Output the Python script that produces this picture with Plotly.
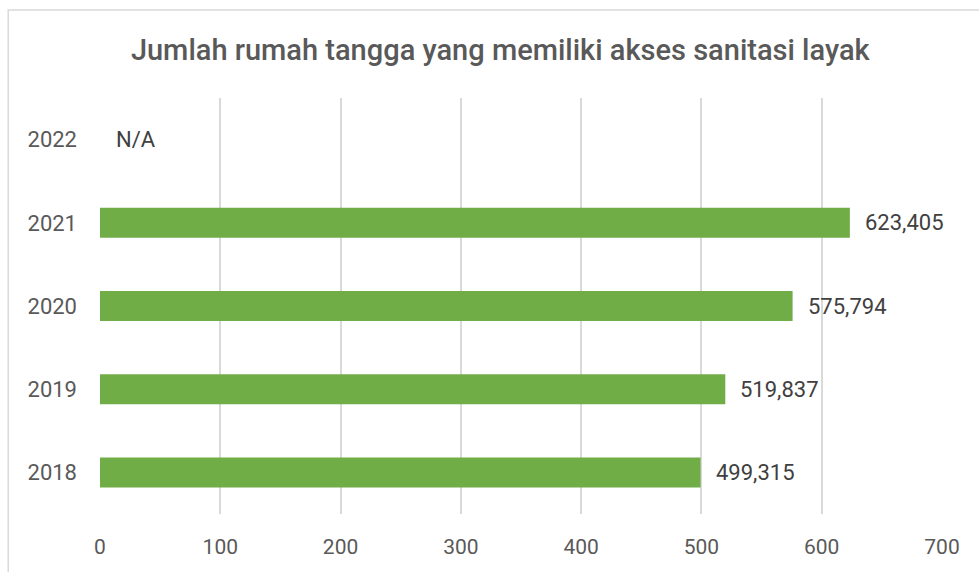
import plotly.graph_objects as go

# Households with access to proper sanitation (thousands), per year
years = ["2018", "2019", "2020", "2021", "2022"]
households = [499.315, 519.837, 575.794, 623.405, None]
x_ticks = [0, 100, 200, 300, 400, 500, 600, 700]

bar_color = "#70ad47"
grid_color = "#d9d9d9"
axis_text = "#595959"
label_text = "#404040"
font_family = "Roboto, 'Open Sans', sans-serif"

fig = go.Figure(
    go.Bar(
        y=years,
        x=households,
        orientation="h",
        marker=dict(color=bar_color, line=dict(width=0)),
        width=0.36,
        hoverinfo="skip",
    )
)

# Value labels to the right of each bar; missing years get "N/A"
for i, v in enumerate(households):
    if v is None:
        fig.add_annotation(x=0, y=i, text="N/A", showarrow=False,
                           xanchor="left", xshift=14,
                           font=dict(size=22, color=label_text, family=font_family))
    else:
        fig.add_annotation(x=v, y=i, text=f"{v:.3f}".replace(".", ","),
                           showarrow=False, xanchor="left", xshift=13,
                           font=dict(size=22, color=label_text, family=font_family))

# Light outer frame of the chart area
fig.add_shape(type="rect", xref="paper", yref="paper",
              x0=-0.109, x1=1.2, y0=-0.3, y1=1.2115,
              line=dict(color=grid_color, width=1.5), layer="below")

fig.update_layout(
    width=979,
    height=572,
    margin=dict(l=100, r=37, t=98, b=58),
    paper_bgcolor="white",
    plot_bgcolor="white",
    showlegend=False,
    title=dict(
        text="Jumlah rumah tangga yang memiliki akses sanitasi layak",
        x=0.511, xanchor="center", y=0.913, yanchor="middle",
        font=dict(size=29, color=axis_text, family=font_family, weight=500),
    ),
    xaxis=dict(
        type="linear",
        range=[0, 700],
        tickvals=x_ticks,
        showgrid=True,
        gridcolor=grid_color,
        gridwidth=1.5,
        zeroline=False,
        showline=False,
        ticks="",
        tickfont=dict(size=21, color=axis_text, family=font_family),
        ticklabelstandoff=18,
    ),
    yaxis=dict(
        type="category",
        categoryorder="array",
        categoryarray=years,
        range=[-0.5, 4.5],
        showgrid=False,
        zeroline=False,
        showline=False,
        ticks="",
        tickfont=dict(size=22, color=axis_text, family=font_family),
        ticklabelstandoff=22,
    ),
)

fig.write_html("out.html")
